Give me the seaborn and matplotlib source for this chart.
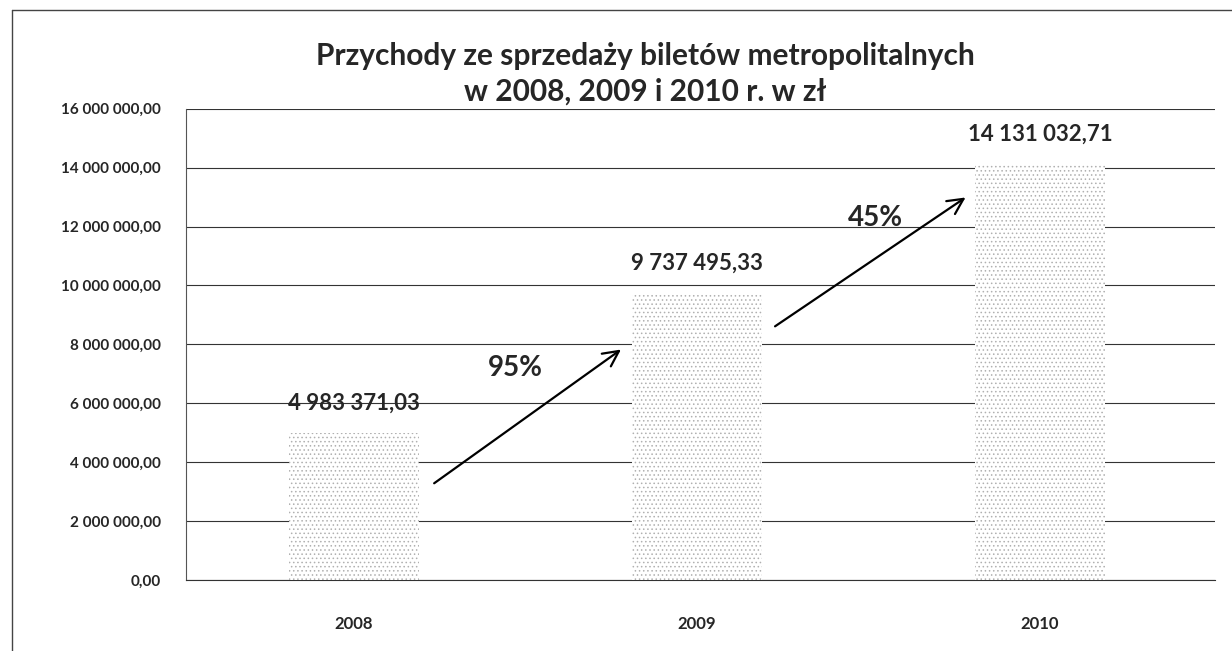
import numpy as np
import pandas as pd
import matplotlib.pyplot as plt
import matplotlib.ticker as mticker
from matplotlib.lines import Line2D
import seaborn as sns

sns.set_style('white')
plt.rcParams['font.family'] = ['Lato', 'DejaVu Sans']
plt.rcParams['hatch.linewidth'] = 0.6

# data -----
years = ['2008', '2009', '2010']
revenue = [4983371.03, 9737495.33, 14131032.71]
growth = ['95%', '45%']

df = pd.DataFrame({'rok': years, 'przychod': revenue})


def pl_num(v, pos=None):
    s = f'{v:,.2f}'
    return s.replace(',', ' ').replace('.', ',')


fig = plt.figure(figsize=(12.32, 6.51), dpi=100)
ax = fig.add_axes([0.151, 0.109, 0.835, 0.724])

sns.barplot(data=df, x='rok', y='przychod', color='white', width=0.38,
            ax=ax, zorder=3)
for p in ax.patches:
    p.set_facecolor('white')
    p.set_edgecolor('#b0b0b0')
    p.set_linewidth(0)
    p.set_hatch('....')

ax.set_ylim(0, 16000000)
ax.set_xlim(-0.49, 2.51)
ax.yaxis.set_major_locator(mticker.MultipleLocator(2000000))
ax.yaxis.set_major_formatter(mticker.FuncFormatter(pl_num))
ax.grid(axis='y', color='#333333', linewidth=0.8, zorder=0)
ax.set_axisbelow(True)
for s in ['top', 'right']:
    ax.spines[s].set_visible(False)
ax.spines['left'].set_color('#555555')
ax.spines['bottom'].set_color('#333333')
ax.tick_params(axis='y', length=0, labelsize=11, pad=18)
ax.tick_params(axis='x', length=0, labelsize=12, pad=26)
for lab in ax.get_xticklabels() + ax.get_yticklabels():
    lab.set_fontweight('bold')
ax.set_xlabel('')
ax.set_ylabel('')

# value labels
for i, v in enumerate(revenue):
    ax.annotate(pl_num(v), (i, v), xytext=(0, 14), textcoords='offset points',
                ha='center', va='bottom', fontsize=16, fontweight='bold')

# growth arrows
arrow_pos = [((0.227, 3230000), (0.785, 7880000), (0.47, 7200000)),
             ((1.221, 8560000), (1.79, 13040000), (1.52, 12300000))]
for g, (start, end, txt) in zip(growth, arrow_pos):
    ax.annotate('', xy=end, xytext=start,
                arrowprops=dict(arrowstyle='->', lw=1.6, color='black',
                                mutation_scale=28))
    ax.text(txt[0], txt[1], g, ha='center', va='center', fontsize=20,
            fontweight='bold')

fig.suptitle('Przychody ze sprzedaży biletów metropolitalnych\nw 2008, 2009 i 2010 r. w zł',
             x=0.524, y=0.935, fontsize=21.5, fontweight='bold', linespacing=1.3)

# outer frame of the chart area
fig.add_artist(Line2D([12 / 1232, 1], [1 - 10 / 651, 1 - 10 / 651],
                      transform=fig.transFigure, color='#444444', lw=1))
fig.add_artist(Line2D([12 / 1232, 12 / 1232], [0, 1 - 10 / 651],
                      transform=fig.transFigure, color='#444444', lw=1))

plt.savefig('out.png', dpi=100)
